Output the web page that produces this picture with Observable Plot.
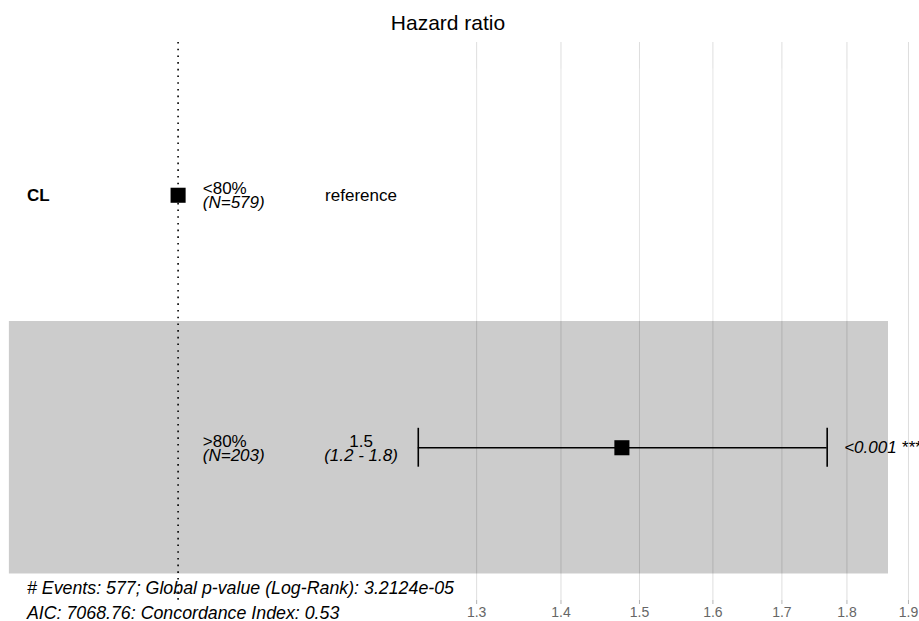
<!DOCTYPE html>
<html><head><meta charset="utf-8">
<script src="https://cdn.jsdelivr.net/npm/d3@7"></script>
<script src="https://cdn.jsdelivr.net/npm/@observablehq/plot@0.6"></script>
<style>
html,body{margin:0;padding:0;background:#fff;overflow:hidden;}
#title{height:42px;width:919px;position:relative;font-family:"Liberation Sans",Arial,sans-serif;font-size:21px;line-height:21px;color:#000;}
#title span{position:absolute;left:448px;top:12px;transform:translateX(-50%);white-space:nowrap;}
#chart svg{display:block;}
</style></head><body>
<div id="title"><span>Hazard ratio</span></div>
<div id="chart"></div>
<script>
// ---- data ----
const variables = ["CL", ""];
const levels = ["<80%", ">80%"];
const counts = [579, 203];
const hazard = [1, 1.477];
const ciLow = [null, 1.235];
const ciHigh = [null, 1.769];
const estLabels = ["reference", "1.5"];
const ciLabels = ["", "(1.2 - 1.8)"];
const pLabels = ["", "<0.001 ***"];
const xTicks = [1.3, 1.4, 1.5, 1.6, 1.7, 1.8, 1.9];
const tickLabels = ["1.3", "1.4", "1.5", "1.6", "1.7", "1.8", "1.9"];
const footerLines = ["# Events: 577; Global p-value (Log-Rank): 3.2124e-05", "AIC: 7068.76: Concordance Index: 0.53"];
const xDomain = [0.8555, 1.9185];
const yDomain = [0.395, 2.605];

// ---- ggforest-style layout positions derived from the data ----
const lo = d3.min(ciLow.filter(v => v != null)), hi = d3.max(ciHigh.filter(v => v != null));
const rb = [Math.log(lo), Math.log(hi)];
const rd = rb[1] - rb[0];
const rp = [rb[0] - rd, rb[1] + 0.15 * rd];
const rw = rp[1] - rp[0];
const varX = Math.exp(rp[0] + 0.02 * rw);
const levelX = Math.exp(rp[0] + 0.22 * rw);
const ciX = Math.exp(rp[0] + 0.40 * rw);
const starsX = Math.exp(rb[1]);
const rectX1 = Math.exp(rp[0]), rectX2 = Math.exp(rp[1]);

const rows = levels.map((lev, k) => ({
  i: k + 1, variable: variables[k], level: lev, n: counts[k], hr: hazard[k],
  lo: ciLow[k], hi: ciHigh[k], est: estLabels[k], ci: ciLabels[k], p: pLabels[k]
}));
const ciRows = rows.filter(d => d.lo != null);
const caps = ciRows.flatMap(d => [{x: d.lo, i: d.i}, {x: d.hi, i: d.i}]);
const capHalf = 0.077;

const chart = Plot.plot({
  width: 919,
  height: 579,
  marginTop: 0,
  marginBottom: 21,
  marginLeft: 0,
  marginRight: 0,
  style: {fontFamily: "Liberation Sans, Arial, sans-serif", fontSize: "17px", background: "white", color: "black"},
  x: {type: "log", domain: xDomain},
  y: {domain: yDomain, reverse: true, axis: null},
  marks: [
    Plot.gridX(xTicks, {stroke: "#dedede", strokeOpacity: 1, strokeWidth: 1}),
    Plot.rect(rows.filter(d => d.i % 2 === 1), {x1: () => rectX1, x2: () => rectX2, y1: d => d.i - 0.5, y2: d => d.i + 0.5, fill: "white", fillOpacity: 0.2}),
    Plot.rect(rows.filter(d => d.i % 2 === 0), {x1: () => rectX1, x2: () => rectX2, y1: d => d.i - 0.5, y2: d => d.i + 0.5, fill: "black", fillOpacity: 0.2}),
    Plot.ruleX([1], {stroke: "black", strokeWidth: 1.6, strokeDasharray: "1.6 5.1"}),
    Plot.ruleY(ciRows, {x1: "lo", x2: "hi", y: "i", stroke: "black", strokeWidth: 1.6}),
    Plot.ruleX(caps, {x: "x", y1: d => d.i - capHalf, y2: d => d.i + capHalf, stroke: "black", strokeWidth: 1.6}),
    Plot.dot(rows, {x: "hr", y: "i", symbol: "square", r: 8.5, fill: "black", stroke: "none"}),
    Plot.text(rows.filter(d => d.variable), {x: () => varX, y: "i", text: "variable", textAnchor: "start", fontWeight: "bold", fontSize: 17}),
    Plot.text(rows, {x: () => levelX, y: "i", text: "level", textAnchor: "start", fontSize: 17, dy: -6.5}),
    Plot.text(rows, {x: () => levelX, y: "i", text: d => `(N=${d.n})`, textAnchor: "start", fontStyle: "italic", fontSize: 17, dy: 7.5}),
    Plot.text(rows.filter(d => d.lo == null), {x: () => ciX, y: "i", text: "est", textAnchor: "middle", fontSize: 17}),
    Plot.text(ciRows, {x: () => ciX, y: "i", text: "est", textAnchor: "middle", fontSize: 17, dy: -6.5}),
    Plot.text(ciRows, {x: () => ciX, y: "i", text: "ci", textAnchor: "middle", fontStyle: "italic", fontSize: 17, dy: 7.5}),
    Plot.text(ciRows, {x: () => starsX, y: "i", text: "p", textAnchor: "start", fontStyle: "italic", fontSize: 17, dx: 17}),
    Plot.text([footerLines.join("\n")], {x: () => varX, y: () => 2.5, text: d => d, textAnchor: "start", lineAnchor: "top", lineHeight: 1.4, fontStyle: "italic", fontSize: 17.8, dy: 2}),
    Plot.axisX(xTicks, {tickSize: 4, tickPadding: 3, stroke: "#b3b3b3", fill: "#666", fontSize: 14, tickFormat: d => tickLabels[xTicks.indexOf(d)]})
  ]
});
document.getElementById("chart").appendChild(chart);
</script></body></html>
